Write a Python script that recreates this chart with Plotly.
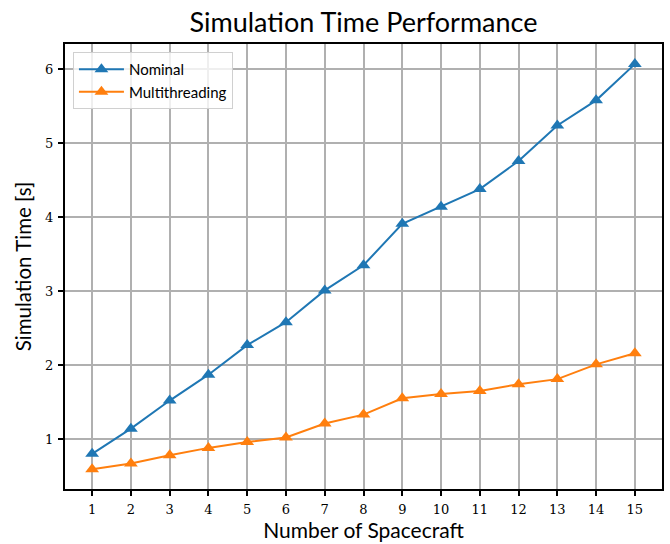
import plotly.graph_objects as go

spacecraft = list(range(1, 16))
nominal = [0.80, 1.14, 1.52, 1.87, 2.27, 2.58, 3.01, 3.35, 3.91, 4.14, 4.38, 4.76, 5.24, 5.58, 6.07]
multithreading = [0.59, 0.67, 0.78, 0.88, 0.96, 1.02, 1.21, 1.33, 1.55, 1.61, 1.65, 1.74, 1.81, 2.01, 2.16]
series_names = ["Nominal", "Multithreading"]
colors = ["#1f77b4", "#ff7f0e"]
y_ticks = [1, 2, 3, 4, 5, 6]

fig = go.Figure()
for name, vals, c in zip(series_names, [nominal, multithreading], colors):
    fig.add_trace(go.Scatter(
        x=spacecraft, y=vals, name=name, mode="lines+markers",
        line=dict(color=c, width=2),
        marker=dict(symbol="triangle-up", size=12, color=c),
    ))

sans = "Lato, DejaVu Sans, sans-serif"
serif = "DejaVu Serif, Liberation Serif, serif"

fig.update_layout(
    width=670, height=544,
    margin=dict(l=65, r=6, t=44, b=55),
    paper_bgcolor="white", plot_bgcolor="white",
    title=dict(text="Simulation Time Performance", x=0.5, xref="paper", xanchor="center",
               y=1 - 23/544, yref="container", yanchor="middle",
               font=dict(family=sans, size=27, color="black")),
    legend=dict(x=0.0133, y=0.982, xanchor="left", yanchor="top",
                bgcolor="rgba(255,255,255,0.8)", bordercolor="#d0d0d0", borderwidth=1,
                font=dict(family=sans, size=15, color="black"),
                itemwidth=45),
    xaxis=dict(
        range=[0.3, 15.7], tickmode="array", tickvals=spacecraft,
        ticktext=[str(v) for v in spacecraft],
        showgrid=True, gridcolor="#b0b0b0", gridwidth=1.5,
        showline=True, linecolor="black", linewidth=2, mirror=True,
        ticks="outside", ticklen=5, tickwidth=1.5, tickcolor="black",
        ticklabelstandoff=2,
        tickfont=dict(family=serif, size=13, color="black"),
        title=dict(text="Number of Spacecraft", font=dict(family=sans, size=21, color="black"), standoff=4),
        zeroline=False,
    ),
    yaxis=dict(
        range=[0.324, 6.342], tickmode="array", tickvals=y_ticks,
        ticktext=[str(v) for v in y_ticks],
        showgrid=True, gridcolor="#b0b0b0", gridwidth=1.5,
        showline=True, linecolor="black", linewidth=2, mirror=True,
        ticks="outside", ticklen=5, tickwidth=1.5, tickcolor="black",
        ticklabelstandoff=2,
        tickfont=dict(family=serif, size=13, color="black"),
        title=dict(text="Simulation Time [s]", font=dict(family=sans, size=20.5, color="black"), standoff=8),
        zeroline=False,
    ),
)

fig.write_html("out.html")
